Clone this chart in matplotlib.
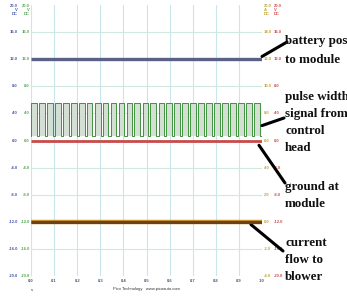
import matplotlib
matplotlib.use("Agg")
import matplotlib.pyplot as plt
import matplotlib.transforms as mtransforms

# ---- data ----
time_ticks = [0.0, 0.1, 0.2, 0.3, 0.4, 0.5, 0.6, 0.7, 0.8, 0.9, 1.0]
time_tick_labels = ["0.0", "0.1", "0.2", "0.3", "0.4", "0.5", "0.6", "0.7", "0.8", "0.9", "1.0"]
volt_ticks = [16, 12, 8, 4, 0, -4, -8, -12, -16, -20]
volt_labels = ["16.0", "12.0", "8.0", "4.0", "0.0", "-4.0", "-8.0", "-12.0", "-16.0", "-20.0"]
amp_labels = ["14.0", "12.0", "10.0", "8.0", "6.0", "4.0", "2.0", "0.0", "-2.0", "-4.0"]

battery_t = [0.0, 1.0]
battery_v = [12.0, 12.0]
ground_t = [0.0, 1.0]
ground_v = [0.0, 0.0]
current_t = [0.0, 1.0]
current_v = [-12.0, -12.0]

pulse_rise = [0.000, 0.034, 0.069, 0.103, 0.138, 0.172, 0.207, 0.241, 0.276, 0.310,
              0.345, 0.379, 0.414, 0.448, 0.483, 0.517, 0.552, 0.586, 0.621, 0.655,
              0.690, 0.724, 0.759, 0.793, 0.828, 0.862, 0.897, 0.931, 0.966]
pulse_fall = [0.025, 0.059, 0.094, 0.128, 0.163, 0.197, 0.232, 0.266, 0.301, 0.335,
              0.370, 0.404, 0.439, 0.473, 0.508, 0.542, 0.577, 0.611, 0.646, 0.680,
              0.715, 0.749, 0.784, 0.818, 0.853, 0.887, 0.922, 0.956, 0.991]
pulse_high = 5.6
pulse_low = 0.7

annotations = [
    (["battery pos", "to module"], [44, 63], (1.0, 12.4), (287, 42)),
    (["pulse width", "signal from", "control", "head"], [100, 117, 134, 151], (1.0, 2.2), (284, 118)),
    (["ground at", "module"], [190, 207], (0.987, -0.7), (285, 183)),
    (["current", "flow to", "blower"], [246, 263, 280], (0.952, -12.4), (283, 251)),
]

W, H = 347, 301
fig = plt.figure(figsize=(W / 100, H / 100), dpi=100)
fig.patch.set_facecolor("white")
ax = fig.add_axes([31 / W, 1 - 276 / H, (262 - 31) / W, (276 - 5) / H])
ax.set_xlim(0, 1)
ax.set_ylim(-20, 20)
for s in ax.spines.values():
    s.set_visible(False)
ax.set_xticks([])
ax.set_yticks([])

grid_c = "#c9e6ea"
for t in time_ticks:
    ax.axvline(t, color=grid_c, lw=0.8, zorder=0)
for v in volt_ticks[:-1]:
    ax.axhline(v, color="#cfe9e0", lw=0.8, zorder=0)

# pulse signal
px, py = [], []
for r, f in zip(pulse_rise, pulse_fall):
    ax.fill_between([r, f], [pulse_low, pulse_low], [pulse_high, pulse_high],
                    color="#d2dfd2", lw=0, zorder=1)
    px += [r, r, f, f]
    py += [pulse_low, pulse_high, pulse_high, pulse_low]
px.append(1.0)
py.append(pulse_low)
ax.plot(px, py, color="#3f9340", lw=0.7, zorder=2)

ax.plot(battery_t, battery_v, color="#5b6184", lw=2.4, solid_capstyle="butt", zorder=3)
ax.plot(ground_t, ground_v, color="#c94a4a", lw=2.0, solid_capstyle="butt", zorder=3)
ax.plot(current_t, current_v, color="#c8962e", lw=3.2, solid_capstyle="butt", zorder=3)
ax.plot(current_t, current_v, color="#6e4018", lw=2.2, solid_capstyle="butt", zorder=4)

LAB_FONT = dict(fontsize=3.0, family="Liberation Sans", fontweight="bold")

# axis labels (manual columns)
def col_label(xpix, ha, labels, color):
    tr = mtransforms.blended_transform_factory(fig.transFigure, ax.transData)
    for v, lab in zip(volt_ticks, labels):
        ax.text(xpix / W, v, lab, transform=tr, ha=ha, va="center",
                color=color, **LAB_FONT)

col_label(18, "right", volt_labels, "#4a5aa8")
col_label(30, "right", volt_labels, "#55a855")
col_label(264, "left", amp_labels, "#c4a53a")
col_label(274, "left", volt_labels, "#d05050")

for xpix, ha, txt, c in [(18, "right", "20.0\nV\nDC", "#4a5aa8"),
                         (30, "right", "20.0\nV\nDC", "#55a855"),
                         (264, "left", "20.0\nA\nDC", "#c4a53a"),
                         (274, "left", "20.0\nV\nDC", "#d05050")]:
    fig.text(xpix / W, 1 - 4 / H, txt, ha=ha, va="top", color=c,
             linespacing=1.0, **LAB_FONT)

trx = mtransforms.blended_transform_factory(ax.transData, fig.transFigure)
for t, lab in zip(time_ticks, time_tick_labels):
    ax.text(t, 1 - 281 / H, lab, transform=trx, ha="center", va="center",
            color="#4a5a7a", **LAB_FONT)
fig.text(32 / W, 1 - 290 / H, "s", ha="center", va="center", fontsize=3.0,
         family="Liberation Sans", color="#333333")
fig.text(146 / W, 1 - 289 / H, "Pico Technology   www.picoauto.com", ha="center",
         va="center", fontsize=3.0, family="Liberation Sans", color="#333333")

# annotations
for lines, baselines, xy, tpix in annotations:
    for line, b in zip(lines, baselines):
        fig.text(285 / W, 1 - b / H, line, ha="left", va="baseline",
                 fontsize=9.4, fontweight="bold", family="Liberation Serif",
                 color="#111111")
    ax.annotate("", xy=xy, xycoords="data",
                xytext=(tpix[0], H - tpix[1]), textcoords="figure pixels",
                arrowprops=dict(arrowstyle="-", color="black", lw=2.2,
                                shrinkA=0, shrinkB=0),
                annotation_clip=False)

fig.savefig("out.png", dpi=100, facecolor="white")
